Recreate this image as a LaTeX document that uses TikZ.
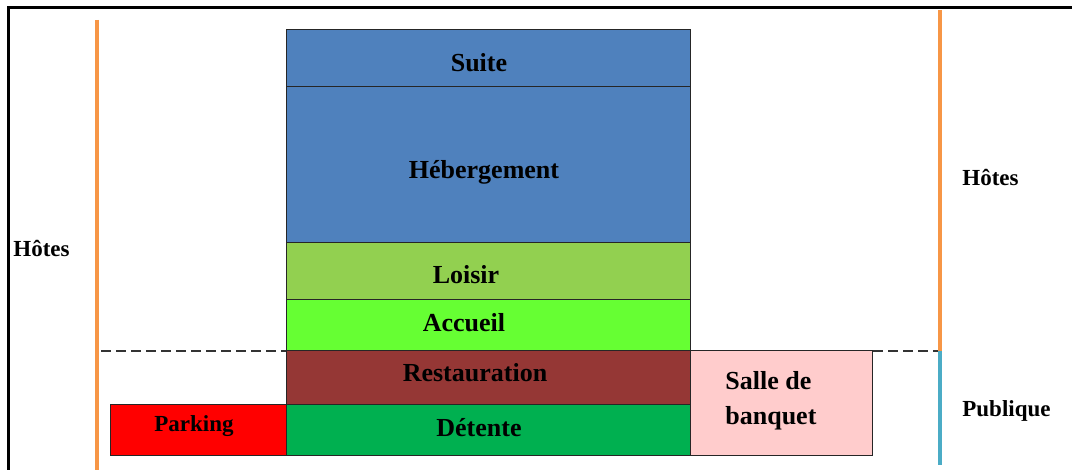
\documentclass[tikz,border=0pt]{standalone}
\usepackage{fontspec}
\setmainfont{Liberation Serif}
\usetikzlibrary{positioning}
\definecolor{bleu}{RGB}{79,129,189}
\definecolor{loisir}{RGB}{146,208,80}
\definecolor{accueil}{RGB}{102,255,51}
\definecolor{resto}{RGB}{149,55,53}
\definecolor{detente}{RGB}{0,176,80}
\definecolor{parking}{RGB}{255,0,0}
\definecolor{salle}{RGB}{255,204,204}
\definecolor{orange}{RGB}{247,150,70}
\definecolor{ciel}{RGB}{75,172,198}
\tikzset{
  zone/.style={draw=black!85,line width=0.5pt},
  lbl/.style={font=\bfseries\fontsize{13}{17.5}\selectfont,anchor=base,inner sep=0pt},
  side/.style={font=\bfseries\fontsize{11.5}{14}\selectfont,anchor=base west,inner sep=0pt}
}

\begin{document}
\begin{tikzpicture}[x=0.5pt,y=-0.5pt]
    \useasboundingbox (0,0) rectangle (1072,470);
    \draw[line width=1.5pt] (8,470)--(8,8)--(1072,8);
    % zones
    \path[zone,fill=bleu] (286,30) rectangle (690,87);
    \path[zone,fill=bleu] (286,87) rectangle (690,243);
    \path[zone,fill=loisir] (286,243) rectangle (690,300);
    \path[zone,fill=accueil] (286,300) rectangle (690,351);
    \path[zone,fill=resto] (286,351) rectangle (690,405);
    \path[zone,fill=detente] (286,405) rectangle (690,456);
    \path[zone,fill=parking] (110,405) rectangle (286,456);
    \path[zone,fill=salle] (690,351) rectangle (872,456);
    \node[lbl] (suite) at (479,72){Suite};
    \node[lbl] (heb) at (484,179){Hébergement};
    \node[lbl] (loisir) at (466,284){Loisir};
    \node[lbl] (accueil) at (464,332){Accueil};
    \node[lbl] (resto) at (475,382){Restauration};
    \node[lbl] (detente) at (479,437){Détente};
    \node[lbl,font=\bfseries\fontsize{11.5}{14}\selectfont] (parking) at (194,432){Parking};
    \node[lbl,anchor=base west,align=left] (salle) at (725,425){Salle de\\banquet};
    % limites
    \coordinate (dg) at (101,351);
    \coordinate (dd) at (938,351);
    \draw[black!80,line width=0.75pt,dash pattern=on 5pt off 2.5pt] (dg)--(286,351);
    \draw[black!80,line width=0.75pt,dash pattern=on 5pt off 2.5pt] (873,351)--(dd);
    \draw[orange,line width=2pt] (97,20)--(97,470);
    \draw[orange,line width=2pt] (940,10)--(940,351);
    \draw[ciel,line width=2pt] (940,351)--(940,465);
    \node[side] (hotesg) at (13,257){Hôtes};
    \node[side] (hotesd) at (962,186){Hôtes};
    \node[side] (publ) at (962,416){Publique};
\end{tikzpicture}
\end{document}
